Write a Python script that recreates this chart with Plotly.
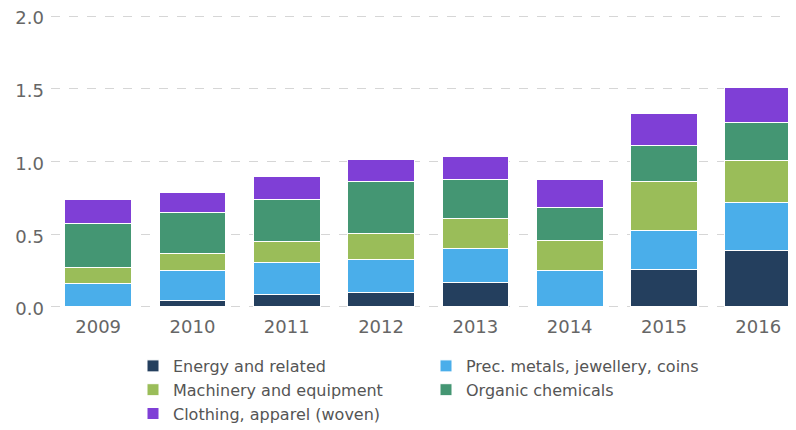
import plotly.graph_objects as go

years = ["2009", "2010", "2011", "2012", "2013", "2014", "2015", "2016"]
energy = [0.0, 0.046, 0.085, 0.103, 0.167, 0.0, 0.259, 0.387]
prec_metals = [0.158, 0.204, 0.222, 0.222, 0.232, 0.25, 0.27, 0.328]
machinery = [0.112, 0.121, 0.14, 0.177, 0.206, 0.204, 0.335, 0.295]
organic = [0.305, 0.277, 0.295, 0.359, 0.268, 0.233, 0.249, 0.261]
clothing = [0.165, 0.138, 0.156, 0.156, 0.163, 0.191, 0.218, 0.239]

series = [
    ("Energy and related", energy, "#243f5e"),
    ("Prec. metals, jewellery, coins", prec_metals, "#4aaeea"),
    ("Machinery and equipment", machinery, "#9abd59"),
    ("Organic chemicals", organic, "#449673"),
    ("Clothing, apparel (woven)", clothing, "#7f3fd6"),
]

fig = go.Figure()
for name, vals, color in series:
    fig.add_trace(go.Bar(
        x=years, y=vals, name=name,
        marker=dict(color=color, line=dict(color="white", width=1)),
    ))

fig.update_layout(
    barmode="stack",
    bargap=0.293,
    width=796, height=430,
    margin=dict(l=43, r=8, t=5, b=130, autoexpand=False),
    plot_bgcolor="white", paper_bgcolor="white",
    font=dict(family="DejaVu Sans", size=18, color="#666666"),
    xaxis=dict(range=[-0.5, 7.4], showgrid=False, showline=False, ticks="",
               automargin=False, ticklabelstandoff=6, ticklabeloverflow="allow",
               tickfont=dict(size=18, color="#666666")),
    yaxis=dict(range=[-0.007, 2.0206], tickvals=[0, 0.5, 1.0, 1.5, 2.0],
               tickformat=".1f", ticklabeloverflow="allow", ticklabelshift=2,
               showgrid=True, gridcolor="#d6d6d6", griddash="dash", gridwidth=1,
               zeroline=False, showline=False, ticks="", automargin=False,
               ticklabelstandoff=6,
               tickfont=dict(size=18, color="#666666")),
    legend=dict(orientation="h", xref="container", x=125 / 796, xanchor="left",
                yref="container", y=1 - 341 / 430, yanchor="top",
                entrywidth=248, entrywidthmode="pixels",
                font=dict(size=16, color="#555555"), traceorder="normal"),
)

fig.write_html("out.html")
